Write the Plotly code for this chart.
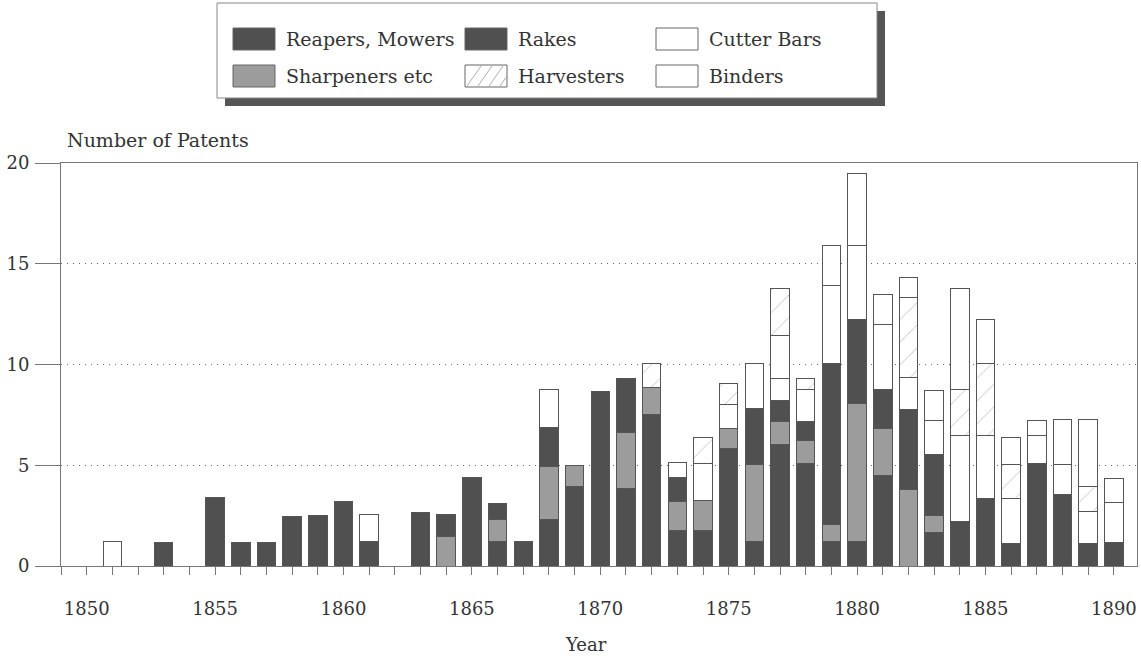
import plotly.graph_objects as go

years = list(range(1850, 1891))

# values (patents per year, per category)
reapers = [0, 0, 0, 1.16, 0, 3.39, 1.17, 1.18, 2.48, 2.49,
           3.21, 1.20, 0, 2.65, 0, 4.41, 1.20, 1.20, 2.33, 3.94,
           8.66, 3.86, 7.50, 1.75, 1.75, 5.84, 1.20, 6.01, 5.07, 1.20,
           1.20, 4.47, 0, 1.67, 2.20, 3.36, 1.13, 5.07, 3.56, 1.13, 1.17]
sharpeners = [0, 0, 0, 0, 0, 0, 0, 0, 0, 0,
              0, 0, 0, 0, 1.46, 0, 1.13, 0, 2.60, 1.03,
              0, 2.78, 1.36, 1.45, 1.50, 0.98, 3.82, 1.16, 1.14, 0.84,
              6.88, 2.37, 3.82, 0.86, 0, 0, 0, 0, 0, 0, 0]
rakes = [0, 0, 0, 0, 0, 0, 0, 0, 0, 0,
         0, 0, 0, 0, 1.11, 0, 0.78, 0, 1.96, 0,
         0, 2.65, 0, 1.21, 0, 0, 2.81, 1.04, 0.96, 8.03,
         4.14, 1.94, 3.93, 3.02, 0, 0, 0, 0, 0, 0, 0]
cutter_bars = [0, 1.21, 0, 0, 0, 0, 0, 0, 0, 0,
               0, 1.37, 0, 0, 0, 0, 0, 0, 1.85, 0,
               0, 0, 0, 0.72, 1.85, 1.18, 2.24, 1.11, 1.57, 3.83,
               3.68, 3.19, 1.61, 1.65, 4.26, 3.10, 2.23, 1.39, 1.46, 1.57, 1.99]
harvesters = [0, 0, 0, 0, 0, 0, 0, 0, 0, 0,
              0, 0, 0, 0, 0, 0, 0, 0, 0, 0,
              0, 0, 1.21, 0, 1.27, 1.07, 0, 0, 0.58, 0,
              0, 0, 3.97, 0, 2.28, 3.61, 1.66, 0, 0, 1.24, 0]
binders = [0, 0, 0, 0, 0, 0, 0, 0, 0, 0,
           0, 0, 0, 0, 0, 0, 0, 0, 0, 0,
           0, 0, 0, 0, 0, 0, 0, 2.10, 0, 2.00,
           3.56, 1.48, 1.01, 1.49, 5.02, 2.15, 1.35, 0.76, 2.23, 3.34, 1.16]
# harvesters stacked above binders (only 1877)
harvesters_top = [0] * 27 + [2.37] + [0] * 13

y_ticks = [0, 5, 10, 15, 20]
x_ticks = [1850, 1855, 1860, 1865, 1870, 1875, 1880, 1885, 1890]

FONT = "DejaVu Serif"
TXT = "#333333"
DARK = "#505050"
GREY = "#9c9c9c"
EDGE = "#555555"

def nz(v):
    return [x if x else None for x in v]

fig = go.Figure()
common = dict(width=0.72, marker_line=dict(color=EDGE, width=1), showlegend=False)
fig.add_bar(x=years, y=nz(reapers), name="Reapers, Mowers", marker_color=DARK, **common)
fig.add_bar(x=years, y=nz(sharpeners), name="Sharpeners etc", marker_color=GREY, **common)
fig.add_bar(x=years, y=nz(rakes), name="Rakes", marker_color=DARK, **common)
fig.add_bar(x=years, y=nz(cutter_bars), name="Cutter Bars", marker_color="white", **common)
hatch = dict(shape="/", fgcolor="#8a8a8a", bgcolor="white", size=16, solidity=0.06)
fig.add_bar(x=years, y=nz(harvesters), name="Harvesters", marker_color="white",
            marker_pattern=hatch, **common)
fig.add_bar(x=years, y=nz(binders), name="Binders", marker_color="white", **common)
fig.add_bar(x=years, y=nz(harvesters_top), name="Harvesters", marker_color="white",
            marker_pattern=hatch, **common)

# plot area in pixels
L, R, T, B = 61, 1137, 163, 566
W, H = R - L, B - T
def px(x):
    return (x - L) / W
def py(y):
    return (B - y) / H

shapes = []
annotations = []
# legend box with shadow
shapes.append(dict(type="rect", xref="paper", yref="paper", x0=px(225), x1=px(885),
                   y0=py(106), y1=py(11), fillcolor="#555555", line=dict(width=0), layer="above"))
shapes.append(dict(type="rect", xref="paper", yref="paper", x0=px(217), x1=px(877),
                   y0=py(98), y1=py(3), fillcolor="white", line=dict(color="#888888", width=1),
                   layer="above"))
legend_items = [
    ("Reapers, Mowers", DARK, None, 233, 39),
    ("Rakes", DARK, None, 465, 39),
    ("Cutter Bars", "white", None, 656, 39),
    ("Sharpeners etc", GREY, None, 233, 76),
    ("Harvesters", "white", "hatch", 465, 76),
    ("Binders", "white", None, 656, 76),
]
for name, col, pat, x0, yc in legend_items:
    shapes.append(dict(type="rect", xref="paper", yref="paper", x0=px(x0), x1=px(x0 + 42),
                       y0=py(yc + 11), y1=py(yc - 11), fillcolor=col,
                       line=dict(color="#666666", width=1), layer="above"))
    if pat:
        for k in range(4):
            xa = x0 + 2 + k * 11
            xb = min(xa + 14, x0 + 41)
            shapes.append(dict(type="line", xref="paper", yref="paper",
                               x0=px(xa), y0=py(yc + 10), x1=px(xb),
                               y1=py(yc + 10 - (xb - xa) * 20 / 14),
                               line=dict(color="#999999", width=0.8), layer="above"))
    annotations.append(dict(text=name, xref="paper", yref="paper", x=px(x0 + 51), y=py(yc),
                            xanchor="left", yanchor="middle", showarrow=False,
                            font=dict(family=FONT, size=19, color=TXT)))

annotations.append(dict(text="Number of Patents", xref="paper", yref="paper", x=px(65), y=py(140),
                        xanchor="left", yanchor="middle", showarrow=False,
                        font=dict(family=FONT, size=19, color=TXT)))
annotations.append(dict(text="Year", xref="paper", yref="paper", x=px(586), y=py(644),
                        xanchor="center", yanchor="middle", showarrow=False,
                        font=dict(family=FONT, size=18, color=TXT)))

fig.update_layout(
    width=1141, height=656,
    margin=dict(l=L, r=1141 - R, t=T, b=656 - B),
    barmode="stack",
    plot_bgcolor="white", paper_bgcolor="white",
    font=dict(family=FONT, size=18, color=TXT),
    shapes=shapes, annotations=annotations,
    showlegend=False,
)
fig.update_xaxes(range=[1849.0, 1890.9], tickvals=x_ticks, ticks="outside", ticklen=8,
                 tickcolor="#777777", showline=True, linecolor="#777777", linewidth=1,
                 mirror=True, showgrid=False, zeroline=False, ticklabelstandoff=18,
                 automargin=False,
                 minor=dict(dtick=1, tick0=1850, ticks="outside", ticklen=8, tickcolor="#777777",
                            showgrid=False),
                 tickfont=dict(family=FONT, size=18, color=TXT))
fig.update_yaxes(range=[0, 20], tickvals=y_ticks, ticks="outside", ticklen=25,
                 tickcolor="#777777", showline=True, linecolor="#777777", linewidth=1,
                 mirror=True, showgrid=True, gridcolor="#666666", griddash="1px,5px", gridwidth=1,
                 zeroline=False, ticklabelstandoff=2, automargin=False,
                 tickfont=dict(family=FONT, size=18, color=TXT))

fig.write_html("out.html", post_script="document.body.style.margin='0';",
               config={"displayModeBar": False})
